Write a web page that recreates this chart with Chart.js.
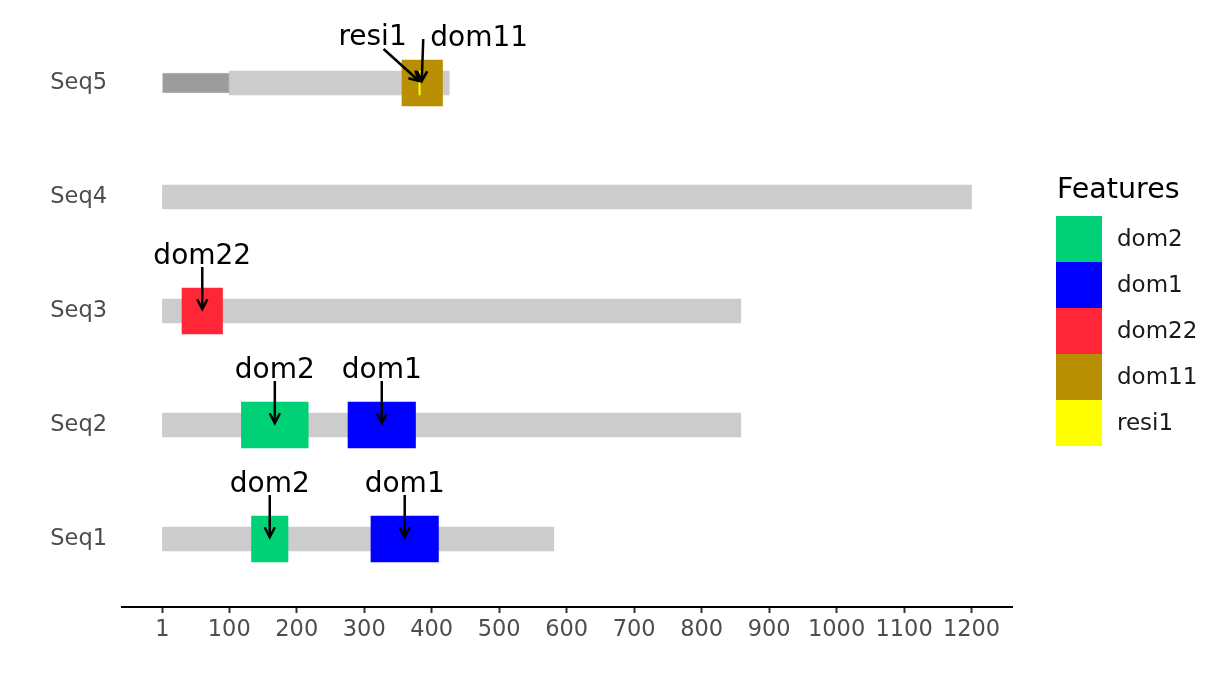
<!DOCTYPE html>
<html>
<head>
<meta charset="utf-8">
<style>
  html, body { margin: 0; padding: 0; background: #ffffff; }
  #wrap { width: 1228px; height: 691px; }
</style>
<script src="https://cdn.jsdelivr.net/npm/chart.js@4.4.1/dist/chart.umd.min.js"></script>
</head>
<body>
<div id="wrap"><canvas id="c" width="1228" height="691"></canvas></div>
<script>
// ---------- data ----------
const seqNames    = ['Seq1', 'Seq2', 'Seq3', 'Seq4', 'Seq5'];
const seqStarts   = [1, 1, 1, 1, 100];
const seqEnds     = [581, 858, 858, 1200, 426];
const maskedSeq   = [5];
const maskedStart = [1];
const maskedEnd   = [100];
const xTickValues = [1, 100, 200, 300, 400, 500, 600, 700, 800, 900, 1000, 1100, 1200];

const featureNames  = ['dom2', 'dom1', 'dom22', 'dom11', 'resi1'];
const featureColors = ['#00D176', '#0000FF', '#FF2638', '#B88F00', '#FFFF00'];

const featSeq   = [1, 1, 2, 2, 3, 5, 5];
const featType  = ['dom2', 'dom1', 'dom2', 'dom1', 'dom22', 'dom11', 'resi1'];
const featStart = [133, 310, 118, 276, 30, 356, 381];
const featEnd   = [187, 410, 217, 376, 90, 416, 383];

// ---------- datasets ----------
const FONT = "'DejaVu Sans', sans-serif";
const datasets = [];
datasets.push({
  label: 'sequence',
  data: seqNames.map((n, i) => ({ x: [seqStarts[i], seqEnds[i]], y: i + 1 })),
  backgroundColor: '#CCCCCC',
  borderWidth: 0,
  barThickness: 24,
  grouped: false,
  order: 10
});
datasets.push({
  label: 'masked',
  data: maskedSeq.map((s, i) => ({ x: [maskedStart[i], maskedEnd[i]], y: s })),
  backgroundColor: '#9C9C9C',
  borderColor: '#B4B4B4',
  borderWidth: 1,
  barThickness: 20,
  grouped: false,
  order: 9
});
featureNames.forEach((name, k) => {
  const data = [];
  featType.forEach((t, i) => {
    if (t === name) data.push({ x: [featStart[i], featEnd[i]], y: featSeq[i] });
  });
  datasets.push({
    label: name,
    data: data,
    backgroundColor: featureColors[k],
    borderWidth: 0,
    barThickness: name === 'resi1' ? 24 : 46,
    grouped: false,
    order: name === 'resi1' ? 1 : 5
  });
});

// label placement (layout only): offsets relative to the feature target pixel
const labelLayout = {
  default: { tdx: 0, tdy: -47, ax0: 0, ay0: -44, ax1: 0, ay1: -2 },
  'resi1@5': { tdx: -47, tdy: -38, ax0: -36, ay0: -34, ax1: -0.5, ay1: -2 },
  'dom11@5': { tdx: 57, tdy: -37, ax0: 1, ay0: -44, ax1: -0.5, ay1: -2 }
};

function drawArrow(ctx, x0, y0, x1, y1) {
  const ang = Math.atan2(y1 - y0, x1 - x0);
  const len = 11, spread = Math.PI / 6.5;
  ctx.beginPath();
  ctx.moveTo(x0, y0);
  ctx.lineTo(x1, y1);
  ctx.stroke();
  ctx.beginPath();
  ctx.moveTo(x1 - len * Math.cos(ang - spread), y1 - len * Math.sin(ang - spread));
  ctx.lineTo(x1, y1);
  ctx.lineTo(x1 - len * Math.cos(ang + spread), y1 - len * Math.sin(ang + spread));
  ctx.stroke();
}

const annotatePlugin = {
  id: 'annotate',
  afterDatasetsDraw(chart) {
    const ctx = chart.ctx;
    const xs = chart.scales.x, ys = chart.scales.y;
    ctx.save();
    ctx.strokeStyle = '#000';
    ctx.fillStyle = '#000';
    ctx.lineWidth = 2.5;
    ctx.lineCap = 'butt';
    ctx.lineJoin = 'miter';
    ctx.font = '28px ' + FONT;
    ctx.textAlign = 'center';
    ctx.textBaseline = 'alphabetic';
    featType.forEach((t, i) => {
      const px = xs.getPixelForValue((featStart[i] + featEnd[i]) / 2);
      const py = ys.getPixelForValue(featSeq[i]);
      const L = labelLayout[t + '@' + featSeq[i]] || labelLayout.default;
      ctx.fillText(t, px + L.tdx, py + L.tdy);
      drawArrow(ctx, px + L.ax0, py + L.ay0, px + L.ax1, py + L.ay1);
    });
    ctx.restore();

    // legend
    const lx = chart.chartArea.right + 44, ly = 216, sw = 46, sh = 46;
    ctx.save();
    ctx.fillStyle = '#000';
    ctx.font = '28.5px ' + FONT;
    ctx.textAlign = 'left';
    ctx.textBaseline = 'alphabetic';
    ctx.fillText('Features', lx + 1, 198);
    ctx.font = '23px ' + FONT;
    ctx.textBaseline = 'middle';
    featureNames.forEach((n, k) => {
      ctx.fillStyle = featureColors[k];
      ctx.fillRect(lx, ly + k * sh, sw, sh);
      ctx.fillStyle = '#1A1A1A';
      ctx.fillText(n, lx + sw + 15, ly + k * sh + sh / 2 + 1);
    });
    ctx.restore();
  }
};

new Chart(document.getElementById('c'), {
  type: 'bar',
  data: { datasets: datasets },
  options: {
    indexAxis: 'y',
    responsive: false,
    devicePixelRatio: 1,
    animation: false,
    layout: { padding: { top: 14, right: 216, bottom: 0, left: 0 } },
    plugins: { legend: { display: false }, tooltip: { enabled: false } },
    scales: {
      x: {
        type: 'linear',
        position: 'bottom',
        min: -58.95,
        max: 1259.95,
        beginAtZero: false,
        afterBuildTicks: (s) => { s.ticks = xTickValues.map(v => ({ value: v })); },
        afterFit: (s) => { s.height = 84; s.paddingLeft = 0; s.paddingRight = 0; },
        ticks: {
          autoSkip: false,
          maxRotation: 0,
          padding: 4,
          color: '#4D4D4D',
          font: { family: FONT, size: 22.5 },
          callback: (v) => String(v)
        },
        grid: {
          display: true,
          drawOnChartArea: false,
          drawTicks: true,
          tickLength: 6,
          tickColor: '#333333',
          tickWidth: 2
        },
        border: { display: true, color: '#000000', width: 2 }
      },
      y: {
        type: 'linear',
        min: 0.4035,
        max: 5.605,
        offset: false,
        afterBuildTicks: (s) => { s.ticks = seqNames.map((n, i) => ({ value: i + 1 })); },
        afterFit: (s) => { s.width = 122; s.paddingTop = 0; s.paddingBottom = 0; },
        ticks: {
          autoSkip: false,
          padding: 15,
          color: '#4D4D4D',
          font: { family: FONT, size: 22.5 },
          callback: (v) => seqNames[v - 1] || ''
        },
        grid: { display: false, offset: false, drawTicks: false, tickLength: 0 },
        border: { display: false }
      }
    }
  },
  plugins: [annotatePlugin]
});
</script>
</body>
</html>
